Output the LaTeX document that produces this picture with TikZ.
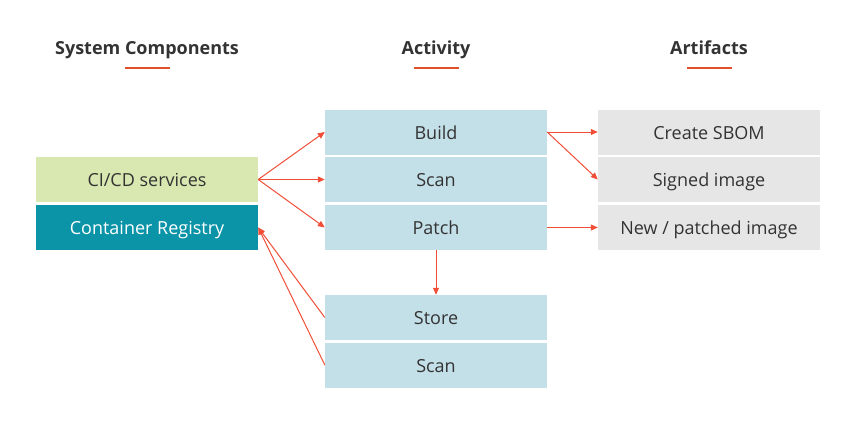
\documentclass[tikz,border=0pt]{standalone}
\usepackage{fontspec}
\setmainfont{Open Sans}
\usetikzlibrary{arrows.meta}
\definecolor{arr}{HTML}{F04E37}
\definecolor{uline}{HTML}{E0512A}
\definecolor{cigreen}{HTML}{D9E8B1}
\definecolor{teal}{HTML}{0B94A8}
\definecolor{lblue}{HTML}{C3DFE8}
\definecolor{lgrey}{HTML}{E6E6E6}
\definecolor{txt}{HTML}{333333}
\begin{document}
\begin{tikzpicture}[x=1pt,y=-1pt,
  box/.style={minimum width=222pt,minimum height=45pt,inner sep=0pt,text height=15pt,text depth=1pt,font=\fontsize{18}{21}\selectfont,text=txt},
  act/.style={box,fill=lblue},
  art/.style={box,fill=lgrey},
  hdr/.style={font=\bfseries\fontsize{18}{21}\selectfont,text=txt,text height=16pt,text depth=1pt,inner sep=0pt},
  ul/.style={draw=uline,line width=2.4pt},
  conn/.style={draw=arr,line width=1pt,-{Triangle[length=7pt,width=6pt]}}]
\useasboundingbox (0,0) rectangle (854,428);
% headers
\node[hdr] (h1) at (147,47) {System Components};
\node[hdr] (h2) at (436,47) {Activity};
\node[hdr] (h3) at (709,47) {Artifacts};
\draw[ul] (125,68) -- (170,68);
\draw[ul] (414,68) -- (459,68);
\draw[ul] (687,68) -- (732,68);
% left
\node[box,fill=cigreen] (ci) at (147,179.5) {CI/CD services};
\node[box,fill=teal,text=white] (reg) at (147,227.5) {Container Registry};
% middle
\node[act] (build) at (436,132) {Build};
\node[act] (scan1) at (436,179.5) {Scan};
\node[act] (patch) at (436,227.5) {Patch};
\node[act] (store) at (436,317.5) {Store};
\node[act] (scan2) at (436,365) {Scan};
% right
\node[art] (sbom) at (709,132) {Create SBOM};
\node[art] (signed) at (709,179.5) {Signed image};
\node[art] (newimg) at (709,227.5) {New / patched image};
% arrows
\draw[conn] (ci.east) -- (build.west);
\draw[conn] (ci.east) -- (scan1.west);
\draw[conn] (ci.east) -- (patch.west);
\draw[conn] (store.west) -- (reg.east);
\draw[conn] (scan2.west) -- (reg.east);
\draw[conn] (build.east) -- (sbom.west);
\draw[conn] (build.east) -- (signed.west);
\draw[conn] (patch.east) -- (newimg.west);
\draw[conn] (patch.south) -- (store.north);
\end{tikzpicture}
\end{document}
